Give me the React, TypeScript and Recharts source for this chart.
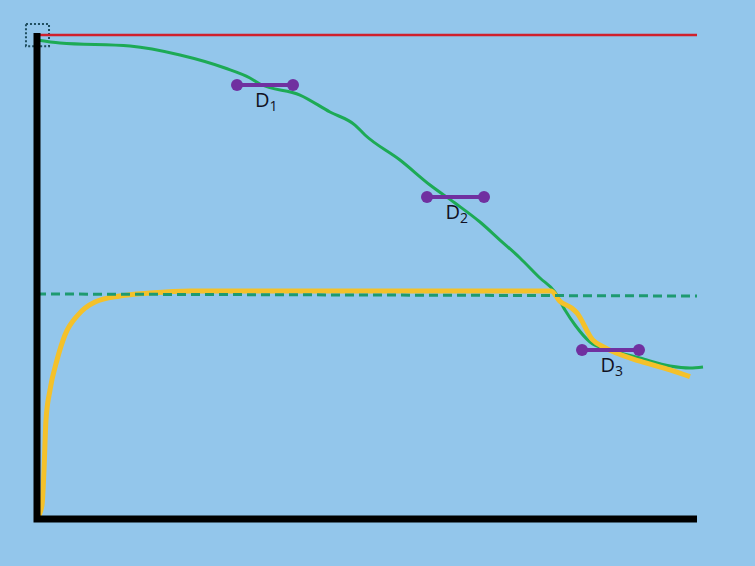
import React from "react";
import {
  ComposedChart,
  Line,
  XAxis,
  YAxis,
  ReferenceArea,
  ReferenceDot,
} from "recharts";

// Green curve (declining)
const greenX = [0, 3.48, 14.09, 21.67, 28.48, 32.27, 33.79, 39.85, 44.39, 48.18, 49.7, 55.0, 59.55, 63.33, 67.12, 70.15, 73.18, 76.21, 78.48, 80.0, 81.52, 83.79, 86.82, 91.36, 95.91, 98.94, 100.91];
const greenY = [98.97, 98.35, 97.73, 95.87, 93.18, 91.12, 89.88, 87.6, 84.09, 81.4, 79.34, 74.17, 69.01, 65.29, 61.36, 57.64, 53.93, 49.79, 46.9, 43.18, 40.08, 36.57, 34.92, 33.26, 31.61, 31.2, 31.4];

// Yellow curve (rising then plateau then dropping)
const yellowX = [0, 0.76, 1.06, 1.36, 1.97, 3.03, 4.24, 6.21, 8.79, 12.58, 17.12, 23.18, 62.58, 77.9, 79.2, 81.0, 81.8, 84.2, 85.9, 91.36, 95.91, 98.94];
const yellowY = [0, 2.89, 10.12, 20.45, 26.65, 32.85, 38.02, 42.15, 44.83, 46.07, 46.69, 47.11, 47.11, 47.11, 45.0, 43.6, 42.6, 37.0, 35.5, 32.6, 30.8, 29.4];

// Reference lines
const redX = [0, 100];
const redY = [100, 100];
const dashX = [0, 100];
const dashY = [46.49, 46.07];

// D segments
const dLabels = ["1", "2", "3"];
const dStartX = [30.3, 59.09, 82.58];
const dEndX = [38.79, 67.73, 91.21];
const dY = [89.67, 66.53, 34.92];

const toPts = (xs: number[], ys: number[]) => xs.map((x, i) => ({ x, y: ys[i] }));

const greenData = toPts(greenX, greenY);
const yellowData = toPts(yellowX, yellowY);
const redData = toPts(redX, redY);
const dashData = toPts(dashX, dashY);

const PURPLE = "#7030A0";

export default function App() {
  return (
    <div
      style={{
        position: "absolute",
        left: 0,
        top: 0,
        width: 755,
        height: 566,
        background: "#93C6EB",
      }}
    >
      <ComposedChart
        width={755}
        height={566}
        margin={{ top: 20.48, right: 44.8, bottom: 37.32, left: 23.8 }}
      >
        <XAxis
          type="number"
          dataKey="x"
          domain={[-2, 102]}
          height={0}
          tick={false}
          tickLine={false}
          axisLine={false}
        />
        <YAxis
          type="number"
          dataKey="y"
          domain={[-2, 103]}
          width={0}
          tick={false}
          tickLine={false}
          axisLine={false}
        />
        <ReferenceArea
          x1={-1.67}
          x2={1.82}
          y1={97.7}
          y2={102.27}
          ifOverflow="visible"
          fill="none"
          fillOpacity={0}
          stroke="#1F4E5F"
          strokeWidth={2}
          strokeDasharray="2 2"
        />
        <Line
          data={redData}
          dataKey="y"
          type="linear"
          stroke="#D0202C"
          strokeWidth={2.5}
          dot={false}
          isAnimationActive={false}
        />
        <Line
          data={greenData}
          dataKey="y"
          type="monotone"
          stroke="#1DAA55"
          strokeWidth={3}
          dot={false}
          isAnimationActive={false}
        />
        <Line
          data={yellowData}
          dataKey="y"
          type="monotone"
          stroke="#F4C12A"
          strokeWidth={5}
          dot={false}
          isAnimationActive={false}
        />
        <Line
          data={dashData}
          dataKey="y"
          type="linear"
          stroke="#1E9A70"
          strokeWidth={3}
          strokeDasharray="9 5"
          dot={false}
          isAnimationActive={false}
        />
        {dLabels.map((lab, i) => (
          <Line
            key={"seg" + lab}
            data={[
              { x: dStartX[i], y: dY[i] },
              { x: dEndX[i], y: dY[i] },
            ]}
            dataKey="y"
            type="linear"
            stroke={PURPLE}
            strokeWidth={4}
            dot={{ r: 6, fill: PURPLE, stroke: PURPLE, strokeWidth: 0 }}
            isAnimationActive={false}
          />
        ))}
        {dLabels.map((lab, i) => (
          <ReferenceDot
            key={"lab" + lab}
            x={(dStartX[i] + dEndX[i]) / 2}
            y={dY[i]}
            r={0}
            ifOverflow="visible"
            fill="none"
            stroke="none"
            label={(props: any) => {
              const vb = props.viewBox || {};
              const cx = (vb.x || 0) + (vb.width || 0) / 2;
              const cy = (vb.y || 0) + (vb.height || 0) / 2;
              return (
                <text
                  x={cx - 10}
                  y={cy + 22}
                  fill="#111122"
                  fontFamily="Open Sans, Liberation Sans, sans-serif"
                  fontSize={20}
                >
                  D
                  <tspan fontSize={14} dy={4}>
                    {lab}
                  </tspan>
                </text>
              );
            }}
          />
        ))}
        {/* axes drawn last so they sit on top */}
        <Line
          data={[
            { x: 0, y: 100.4 },
            { x: 0, y: 0 },
            { x: 100, y: 0 },
          ]}
          dataKey="y"
          type="linear"
          stroke="#000000"
          strokeWidth={7}
          strokeLinecap="butt"
          strokeLinejoin="miter"
          dot={false}
          isAnimationActive={false}
        />
      </ComposedChart>
    </div>
  );
}
